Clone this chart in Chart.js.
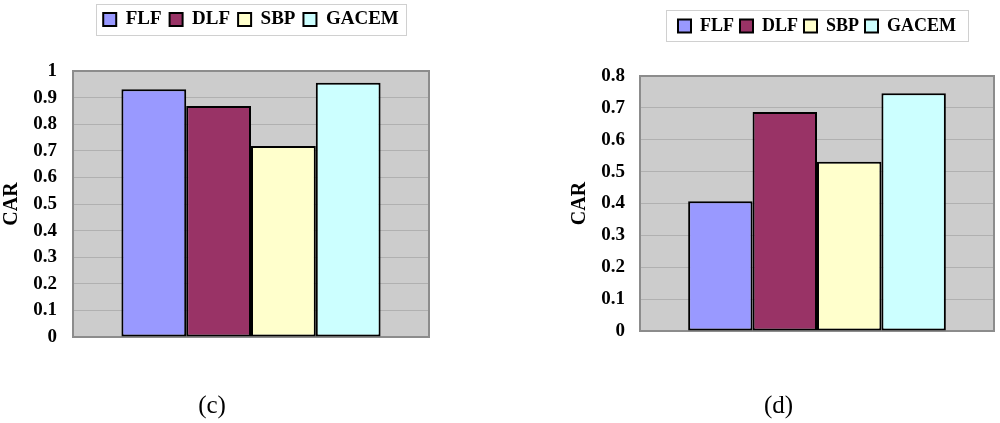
<!DOCTYPE html>
<html>
<head>
<meta charset="utf-8">
<script src="https://cdn.jsdelivr.net/npm/chart.js@4/dist/chart.umd.min.js"></script>
<style>
    html, body { margin: 0; padding: 0; background: #fff; }
    body { width: 1000px; height: 423px; position: relative; overflow: hidden; }
    canvas { position: absolute; top: 0; }
    #chartC { left: -5px; }
    #chartD { left: 563px; }
</style>
</head>
<body>
<canvas id="chartC" width="435" height="423"></canvas>
<canvas id="chartD" width="437" height="423"></canvas>
<script>
// methods compared in both panels
const methods = ['FLF', 'DLF', 'SBP', 'GACEM'];
const methodColors = ['#9999ff', '#993366', '#ffffcc', '#ccffff'];

// CAR values
const carC = [0.931, 0.868, 0.718, 0.956];
const carD = [0.407, 0.687, 0.531, 0.746];

// y tick labels
const ticksC = ['0', '0.1', '0.2', '0.3', '0.4', '0.5', '0.6', '0.7', '0.8', '0.9', '1'];
const ticksD = ['0', '0.1', '0.2', '0.3', '0.4', '0.5', '0.6', '0.7', '0.8'];

const serif = "'Liberation Serif', 'Times New Roman', serif";

function framePlugin(opts) {
    return {
        id: 'frame',
        beforeLayout(chart) {
            // make the legend take a fixed height so the plot starts where it should
            const lg = chart.legend;
            if (lg && !lg._fitWrapped) {
                const orig = lg.fit;
                lg.fit = function () {
                    orig.call(this);
                    this.height = opts.legendHeight;
                };
                lg._fitWrapped = true;
            }
        },
        beforeDraw(chart) {
            const a = chart.chartArea;
            const ctx = chart.ctx;
            ctx.save();
            ctx.fillStyle = '#cccccc';
            ctx.fillRect(a.left, a.top, a.right - a.left, a.bottom - a.top);
            ctx.restore();
        },
        beforeDatasetsDraw(chart) {
            const a = chart.chartArea;
            const ctx = chart.ctx;
            ctx.save();
            ctx.strokeStyle = '#8c8c8c';
            ctx.lineWidth = 2;
            ctx.strokeRect(a.left, a.top, a.right - a.left, a.bottom - a.top);
            ctx.restore();
        },
        afterDraw(chart) {
            // light border round the legend
            const boxes = chart.legend.legendHitBoxes;
            if (!boxes || !boxes.length) return;
            const first = boxes[0];
            const last = boxes[boxes.length - 1];
            const mid = (first.left + last.left + last.width) / 2;
            const cy = first.top + first.height / 2;
            const ctx = chart.ctx;
            ctx.save();
            ctx.strokeStyle = '#d0d0d0';
            ctx.lineWidth = 1;
            ctx.strokeRect(Math.round(mid - opts.frameWidth / 2) + 0.5, Math.round(cy - 16) + 0.5, opts.frameWidth, 31);
            ctx.restore();
        }
    };
}

function createCarChart(canvasId, values, tickLabels, yMax, opts) {
    const ctx = document.getElementById(canvasId).getContext('2d');
    new Chart(ctx, {
        type: 'bar',
        data: {
            labels: [''],
            datasets: methods.map((name, i) => ({
                label: name,
                data: [values[i]],
                backgroundColor: methodColors[i],
                borderColor: '#000000',
                borderWidth: 2,
                borderSkipped: false,
                categoryPercentage: 0.728,
                barPercentage: 1
            }))
        },
        options: {
            responsive: false,
            animation: false,
            devicePixelRatio: 1,
            layout: {
                padding: { left: 0, right: opts.padRight, top: opts.padTop, bottom: 0 }
            },
            plugins: {
                tooltip: { enabled: false },
                legend: {
                    position: 'top',
                    fullSize: false,
                    labels: {
                        color: '#000',
                        boxWidth: 13,
                        boxHeight: 13,
                        padding: opts.legendPadding,
                        font: { family: serif, size: opts.legendFont, weight: 'bold' }
                    }
                },
                title: {
                    display: true,
                    position: 'bottom',
                    text: opts.caption,
                    color: '#000',
                    font: { family: serif, size: 25, weight: 'normal', lineHeight: 1.2 },
                    padding: { top: opts.captionGap, bottom: 2 }
                }
            },
            scales: {
                x: {
                    grid: { display: false, drawTicks: false },
                    border: { display: false },
                    ticks: { display: false },
                    afterFit: (scale) => { scale.height = 0; }
                },
                y: {
                    min: 0,
                    max: yMax,
                    afterFit: (scale) => { scale.width = opts.axisWidth; },
                    grid: { color: '#b0b0b0', lineWidth: 1, drawTicks: false },
                    border: { display: false },
                    ticks: {
                        stepSize: 0.1,
                        padding: opts.tickPadding,
                        color: '#000',
                        font: { family: serif, size: 19, weight: 'bold' },
                        callback: (v) => tickLabels[Math.round(v * 10)]
                    },
                    title: {
                        display: true,
                        text: 'CAR',
                        color: '#000',
                        font: { family: serif, size: 20, weight: 'bold', lineHeight: 1.2 },
                        padding: { top: 5, bottom: 0 }
                    }
                }
            }
        },
        plugins: [framePlugin(opts)]
    });
}

createCarChart('chartC', carC, ticksC, 1, {
    caption: '(c)', padRight: 1, padTop: 2, legendHeight: 69, legendPadding: 8,
    legendFont: 19, frameWidth: 310, axisWidth: 78, tickPadding: 16, captionGap: 54
});

createCarChart('chartD', carD, ticksD, 0.8, {
    caption: '(d)', padRight: 6, padTop: 11, legendHeight: 65, legendPadding: 6,
    legendFont: 18, frameWidth: 302, axisWidth: 77, tickPadding: 15, captionGap: 60
});
</script>
</body>
</html>
